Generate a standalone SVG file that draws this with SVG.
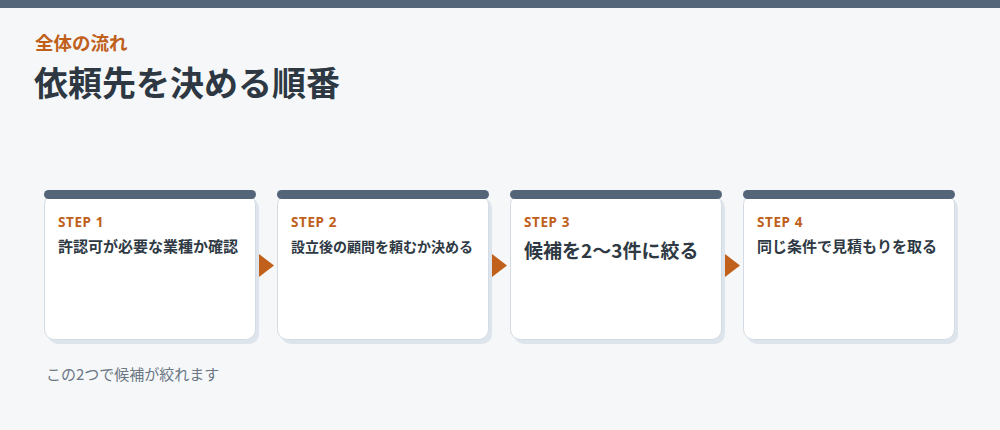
<svg xmlns="http://www.w3.org/2000/svg" width="1000" height="430" viewBox="0 0 1000 430">
<defs>
<style>
.jp{font-family:"Noto Sans CJK JP","Noto Sans",sans-serif;}
.step{font-family:"Noto Sans","Noto Sans CJK JP",sans-serif;font-size:13.5px;font-weight:700;fill:#c0601a;letter-spacing:0.6px;}
.body{font-weight:700;fill:#2e3944;}
.shadow{fill:#dde4ec;}
.card{fill:#ffffff;stroke:#d3dbe4;stroke-width:1;}
.bar{fill:#54657a;}
.arrow{fill:#c0601a;}
</style>
</defs>
<rect x="0" y="0" width="1000" height="430" fill="#f5f7f9"/>
<rect x="0" y="0" width="1000" height="8" fill="#54667a"/>
<text class="jp" x="35" y="50" font-size="18.5" font-weight="700" fill="#c0601a">全体の流れ</text>
<text class="jp" x="34" y="96" font-size="34" font-weight="700" fill="#2d3843">依頼先を決める順番</text>

<g id="connectors">
<polygon class="arrow" points="259,254 274,265.5 259,277"/>
<polygon class="arrow" points="492,254 507,265.5 492,277"/>
<polygon class="arrow" points="725,254 740,265.5 725,277"/>
</g>

<g id="step1">
<rect class="shadow" x="48" y="198" width="211" height="146" rx="10"/>
<rect class="card" x="44.5" y="194.5" width="211" height="145" rx="10"/>
<rect class="bar" x="44" y="190" width="212" height="9" rx="4.5"/>
<text class="step" x="58" y="227">STEP 1</text>
<text class="jp body" x="58" y="252" font-size="15">許認可が必要な業種か確認</text>
</g>

<g id="step2">
<rect class="shadow" x="281" y="198" width="211" height="146" rx="10"/>
<rect class="card" x="277.5" y="194.5" width="211" height="145" rx="10"/>
<rect class="bar" x="277" y="190" width="212" height="9" rx="4.5"/>
<text class="step" x="291" y="227">STEP 2</text>
<text class="jp body" x="291" y="252" font-size="14">設立後の顧問を頼むか決める</text>
</g>

<g id="step3">
<rect class="shadow" x="514" y="198" width="211" height="146" rx="10"/>
<rect class="card" x="510.5" y="194.5" width="211" height="145" rx="10"/>
<rect class="bar" x="510" y="190" width="212" height="9" rx="4.5"/>
<text class="step" x="524" y="227">STEP 3</text>
<text class="jp body" x="524" y="258" font-size="19">候補を2〜3件に絞る</text>
</g>

<g id="step4">
<rect class="shadow" x="747" y="198" width="211" height="146" rx="10"/>
<rect class="card" x="743.5" y="194.5" width="211" height="145" rx="10"/>
<rect class="bar" x="743" y="190" width="212" height="9" rx="4.5"/>
<text class="step" x="757" y="227">STEP 4</text>
<text class="jp body" x="757" y="252" font-size="15">同じ条件で見積もりを取る</text>
</g>

<text class="jp" x="46" y="380" font-size="15" fill="#6b7785">この2つで候補が絞れます</text>
</svg>
